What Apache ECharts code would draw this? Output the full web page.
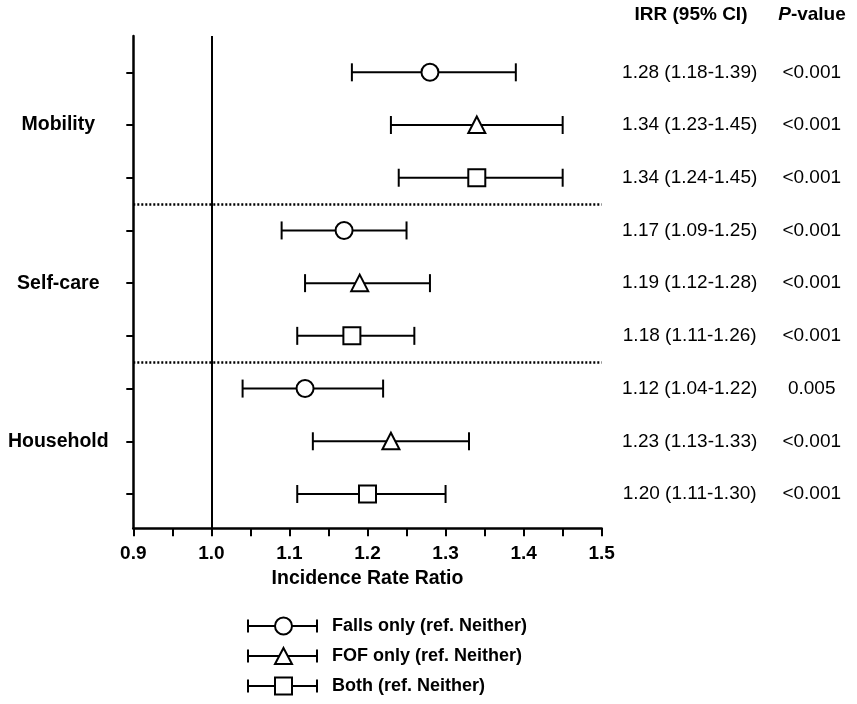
<!DOCTYPE html>
<html>
<head>
<meta charset="utf-8">
<script src="https://cdn.jsdelivr.net/npm/echarts@6/dist/echarts.min.js"></script>
<style>
html,body{margin:0;padding:0;background:#fff;}
#chart{width:857px;height:704px;}
</style>
</head>
<body>
<div id="chart"></div>
<script>
// ---- data ----
const groups = ['Mobility', 'Self-care', 'Household'];
const seriesNames = ['Falls only (ref. Neither)', 'FOF only (ref. Neither)', 'Both (ref. Neither)'];

const fallsEst = [1.28, 1.17, 1.12];
const fallsLo  = [1.18, 1.09, 1.04];
const fallsHi  = [1.39, 1.25, 1.22];
const fallsP   = ['<0.001', '<0.001', '0.005'];

const fofEst = [1.34, 1.19, 1.23];
const fofLo  = [1.23, 1.12, 1.13];
const fofHi  = [1.45, 1.28, 1.33];
const fofP   = ['<0.001', '<0.001', '<0.001'];

const bothEst = [1.34, 1.18, 1.20];
const bothLo  = [1.24, 1.11, 1.11];
const bothHi  = [1.45, 1.26, 1.30];
const bothP   = ['<0.001', '<0.001', '<0.001'];

const xTickValues = [0.9, 0.95, 1.0, 1.05, 1.1, 1.15, 1.2, 1.25, 1.3, 1.35, 1.4, 1.45, 1.5];
const xLabelValues = [0.9, 1.0, 1.1, 1.2, 1.3, 1.4, 1.5];
const refValue = 1.0;

// ---- build ----
const sets = [
  {est: fallsEst, lo: fallsLo, hi: fallsHi, p: fallsP, shape: 'circle'},
  {est: fofEst, lo: fofLo, hi: fofHi, p: fofP, shape: 'triangle'},
  {est: bothEst, lo: bothLo, hi: bothHi, p: bothP, shape: 'square'}
];
const nRows = groups.length * sets.length;
const rowValues = [];
for (let i = 1; i <= nRows; i++) rowValues.push(i);
const rowIRR = {}, rowP = {};
sets.forEach((s, si) => {
  groups.forEach((g, gi) => {
    const row = gi * sets.length + si + 1;
    rowIRR[row] = s.est[gi].toFixed(2) + ' (' + s.lo[gi].toFixed(2) + '-' + s.hi[gi].toFixed(2) + ')';
    rowP[row] = s.p[gi];
  });
});
const groupLabelRows = groups.map((g, gi) => gi * sets.length + 2);
const separators = groups.slice(1).map((g, gi) => (gi + 1) * sets.length + 0.5);

const FONT = '"Liberation Sans", Arial, Helvetica, sans-serif';
const yMin = 0.311, yMax = 9.651;

function renderItem(params, api) {
  const row = api.value(0), est = api.value(1), lo = api.value(2), hi = api.value(3);
  const shape = sets[params.seriesIndex].shape;
  const pl = api.coord([lo, row]);
  const ph = api.coord([hi, row]);
  const pe = api.coord([est, row]);
  const cap = 9;
  const st = {stroke: '#000', lineWidth: 2, fill: null};
  const children = [
    {type: 'line', shape: {x1: pl[0], y1: pl[1], x2: ph[0], y2: ph[1]}, style: st},
    {type: 'line', shape: {x1: pl[0], y1: pl[1] - cap, x2: pl[0], y2: pl[1] + cap}, style: st},
    {type: 'line', shape: {x1: ph[0], y1: ph[1] - cap, x2: ph[0], y2: ph[1] + cap}, style: st}
  ];
  const ms = {stroke: '#000', lineWidth: 2, fill: '#fff'};
  if (shape === 'circle') {
    children.push({type: 'circle', shape: {cx: pe[0], cy: pe[1], r: 8.5}, style: ms});
  } else if (shape === 'triangle') {
    children.push({type: 'polygon', shape: {points: [[pe[0], pe[1] - 8.5], [pe[0] + 8.5, pe[1] + 8], [pe[0] - 8.5, pe[1] + 8]]}, style: ms});
  } else {
    children.push({type: 'rect', shape: {x: pe[0] - 8.5, y: pe[1] - 8.5, width: 17, height: 17}, style: ms});
  }
  return {type: 'group', children: children};
}

const icons = [
  'path://M0 0 L0 0 M80 18 L80 18 M1 2.5 L1 15.5 M1 9 L28 9 M45 9 L70 9 M70 2.5 L70 15.5 M45 9 A8.5 8.5 0 1 1 28 9 A8.5 8.5 0 1 1 45 9 Z',
  'path://M0 0 L0 0 M80 18 L80 18 M1 2.5 L1 15.5 M1 9 L32.25 9 M40.75 9 L70 9 M70 2.5 L70 15.5 M36.5 1 L45 17 L28 17 Z',
  'path://M0 0 L0 0 M80 18 L80 18 M1 2.5 L1 15.5 M1 9 L28 9 M45 9 L70 9 M70 2.5 L70 15.5 M28 0.5 L45 0.5 L45 17.5 L28 17.5 Z'
];

const series = sets.map((s, si) => {
  const data = groups.map((g, gi) => [gi * sets.length + si + 1, s.est[gi], s.lo[gi], s.hi[gi]]);
  const ser = {
    name: seriesNames[si],
    type: 'custom',
    renderItem: renderItem,
    itemStyle: {color: '#000'},
    encode: {x: [1, 2, 3], y: 0},
    data: data,
    z: 5
  };
  if (si === 0) {
    ser.markLine = {
      silent: true,
      symbol: 'none',
      animation: false,
      label: {show: false},
      data: [{xAxis: refValue, lineStyle: {color: '#000', width: 2, type: 'solid'}}]
        .concat(separators.map(v => ({yAxis: v, lineStyle: {color: '#000', width: 2.5, type: [2, 2]}})))
    };
  }
  return ser;
});

const chart = echarts.init(document.getElementById('chart'), null, {renderer: 'canvas'});
chart.setOption({
  backgroundColor: '#fff',
  animation: false,
  textStyle: {fontFamily: FONT, color: '#000'},
  grid: {left: 133.3, right: 255.3, top: 36, bottom: 175.7, containLabel: false},
  xAxis: {
    type: 'value', min: 0.9, max: 1.5,
    name: 'Incidence Rate Ratio', nameLocation: 'middle', nameGap: 38,
    nameTextStyle: {fontFamily: FONT, fontSize: 19.5, fontWeight: 'bold', color: '#000'},
    axisLine: {show: true, lineStyle: {color: '#000', width: 2.5}},
    axisTick: {show: true, length: 8, lineStyle: {color: '#000', width: 2}, customValues: xTickValues},
    axisLabel: {customValues: xLabelValues, formatter: v => v.toFixed(1), margin: 16,
      fontFamily: FONT, fontSize: 19, fontWeight: 'bold', color: '#000'},
    splitLine: {show: false}
  },
  yAxis: [
    {
      type: 'value', inverse: true, min: yMin, max: yMax, position: 'left',
      axisLine: {show: true, lineStyle: {color: '#000', width: 2.5}},
      axisTick: {show: true, length: 7, lineStyle: {color: '#000', width: 2}, customValues: rowValues},
      axisLabel: {customValues: groupLabelRows, formatter: v => groups[Math.round((v - 2) / sets.length)],
        align: 'center', margin: 75, fontFamily: FONT, fontSize: 19.5, fontWeight: 'bold', color: '#000'},
      splitLine: {show: false}
    },
    {
      type: 'value', inverse: true, min: yMin, max: yMax, position: 'right',
      axisLine: {show: false}, axisTick: {show: false}, splitLine: {show: false},
      axisLabel: {customValues: rowValues, formatter: v => rowIRR[Math.round(v)] || '',
        align: 'center', margin: 88, fontFamily: FONT, fontSize: 19, color: '#000'}
    },
    {
      type: 'value', inverse: true, min: yMin, max: yMax, position: 'right',
      axisLine: {show: false}, axisTick: {show: false}, splitLine: {show: false},
      axisLabel: {customValues: rowValues, formatter: v => rowP[Math.round(v)] || '',
        align: 'center', margin: 210, fontFamily: FONT, fontSize: 19, color: '#000'}
    }
  ],
  legend: {
    orient: 'vertical', left: 246, top: 616, height: 120, padding: 0, itemGap: 10,
    itemWidth: 80, itemHeight: 18, selectedMode: false,
    itemStyle: {color: '#fff', borderColor: '#000', borderWidth: 2},
    textStyle: {fontFamily: FONT, fontSize: 18, fontWeight: 'bold', color: '#000'},
    data: seriesNames.map((n, i) => ({name: n, icon: icons[i]}))
  },
  graphic: [
    {type: 'text', x: 691, y: 15, silent: true,
      style: {text: 'IRR (95% CI)', font: 'bold 19px ' + FONT, fill: '#000', textAlign: 'center', textVerticalAlign: 'middle'}},
    {type: 'text', x: 812, y: 15, silent: true,
      style: {text: '{i|P}{b|-value}', fill: '#000', textAlign: 'center', textVerticalAlign: 'middle',
        rich: {i: {fontFamily: FONT, fontSize: 19, fontWeight: 'bold', fontStyle: 'italic', fill: '#000'},
               b: {fontFamily: FONT, fontSize: 19, fontWeight: 'bold', fill: '#000'}}}}
  ],
  series: series
});
</script>
</body>
</html>
